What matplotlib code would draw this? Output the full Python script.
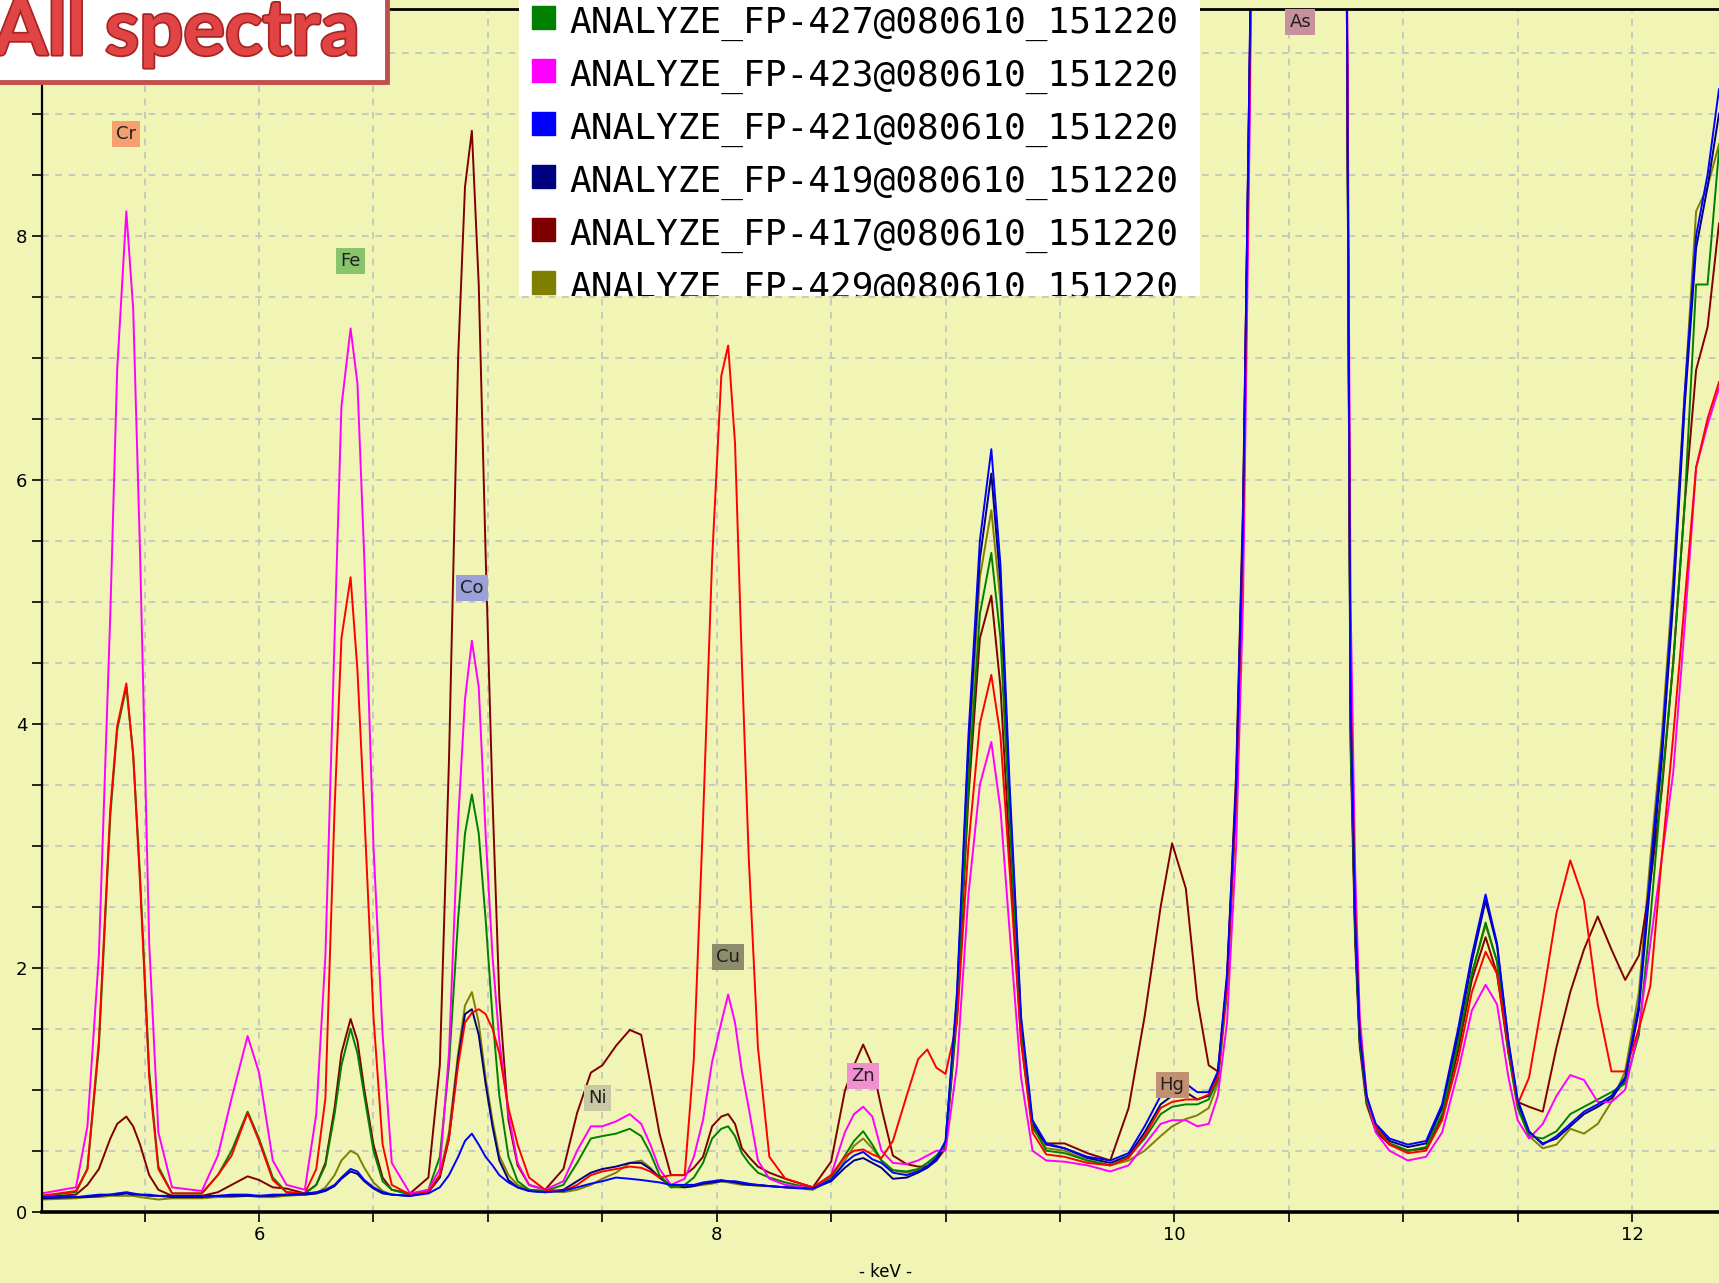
import matplotlib
matplotlib.use('Agg')
import matplotlib.pyplot as plt
import matplotlib.patheffects as pe
from matplotlib.patches import Rectangle
from matplotlib.ticker import MultipleLocator

# energy grid (keV)
kev = [5.05, 5.20, 5.25, 5.30, 5.35, 5.38, 5.42, 5.45, 5.48, 5.52, 5.56, 5.62,
       5.75, 5.82, 5.88, 5.95, 6.00, 6.06, 6.12, 6.20,
       6.25, 6.29, 6.33, 6.36, 6.40, 6.43, 6.46, 6.50, 6.54, 6.58, 6.66,
       6.74, 6.79, 6.83, 6.87, 6.90, 6.93, 6.96, 6.99, 7.02, 7.05, 7.09, 7.13, 7.18, 7.25,
       7.33, 7.39, 7.45, 7.50, 7.56, 7.62, 7.67, 7.71, 7.75, 7.80,
       7.86, 7.90, 7.94, 7.98, 8.02, 8.05, 8.08, 8.11, 8.14, 8.18, 8.23, 8.30, 8.42,
       8.50, 8.56, 8.60, 8.64, 8.68, 8.72, 8.77, 8.83, 8.88, 8.92, 8.96,
       9.00, 9.05, 9.10, 9.15, 9.20, 9.24, 9.28, 9.33, 9.38, 9.44, 9.52,
       9.62, 9.72, 9.80, 9.87, 9.94, 9.99, 10.05, 10.10, 10.15, 10.19, 10.23, 10.27, 10.30, 10.33,
       10.36, 10.55, 10.74,
       10.77, 10.79, 10.81, 10.84, 10.88, 10.94, 11.02, 11.10, 11.17, 11.24, 11.30, 11.36,
       11.41, 11.46, 11.50, 11.55, 11.61, 11.67, 11.73, 11.79, 11.85, 11.91, 11.97, 12.03,
       12.08, 12.13, 12.18, 12.23, 12.28, 12.33, 12.38]

fp_423 = [0.15, 0.20, 0.70, 2.10, 4.90, 6.90, 8.20, 7.40, 5.40, 2.20, 0.65, 0.20,
          0.17, 0.46, 0.93, 1.44, 1.14, 0.42, 0.22, 0.18,
          0.80, 2.10, 4.70, 6.60, 7.24, 6.79, 5.35, 3.00, 1.45, 0.40, 0.15,
          0.18, 0.35, 1.30, 3.20, 4.20, 4.68, 4.30, 3.10, 2.10, 1.40, 0.80, 0.40, 0.22, 0.18,
          0.25, 0.50, 0.70, 0.70, 0.74, 0.80, 0.72, 0.55, 0.35, 0.22,
          0.27, 0.45, 0.75, 1.23, 1.55, 1.78, 1.55, 1.15, 0.85, 0.42, 0.27, 0.22, 0.19,
          0.30, 0.65, 0.80, 0.86, 0.78, 0.50, 0.40, 0.39, 0.42, 0.46, 0.50,
          0.50, 1.20, 2.60, 3.50, 3.85, 3.30, 2.30, 1.10, 0.50, 0.42, 0.41,
          0.38, 0.33, 0.38, 0.55, 0.72, 0.75, 0.75, 0.70, 0.72, 0.95, 1.55, 3.00, 5.00, 9.00,
          15, 15, 15,
          5.0, 2.8, 1.6, 0.95, 0.65, 0.50, 0.42, 0.45, 0.65, 1.15, 1.65, 1.86,
          1.70, 1.10, 0.75, 0.60, 0.72, 0.95, 1.12, 1.08, 0.90, 0.90, 1.00, 1.50,
          2.20, 2.90, 3.60, 4.80, 6.10, 6.45, 6.75]

fp_red = [0.13, 0.17, 0.35, 1.40, 3.30, 3.98, 4.33, 3.74, 2.70, 1.10, 0.35, 0.15,
          0.15, 0.30, 0.46, 0.81, 0.58, 0.26, 0.16, 0.15,
          0.35, 0.93, 3.30, 4.70, 5.20, 4.44, 3.27, 1.60, 0.55, 0.22, 0.14,
          0.16, 0.30, 0.60, 1.20, 1.55, 1.63, 1.66, 1.62, 1.50, 1.30, 0.85, 0.55, 0.28, 0.18,
          0.17, 0.22, 0.30, 0.33, 0.35, 0.37, 0.36, 0.33, 0.28, 0.30,
          0.30, 1.25, 3.20, 5.35, 6.85, 7.10, 6.30, 4.50, 2.90, 1.35, 0.45, 0.27, 0.20,
          0.30, 0.45, 0.50, 0.51, 0.47, 0.44, 0.58, 0.95, 1.25, 1.33, 1.18,
          1.13, 1.55, 3.00, 4.00, 4.40, 3.90, 2.80, 1.40, 0.65, 0.47, 0.45,
          0.40, 0.38, 0.44, 0.62, 0.85, 0.90, 0.92, 0.92, 0.96, 1.10, 1.85, 3.40, 5.50, 9.40,
          15, 15, 15,
          4.3, 2.5, 1.50, 0.95, 0.70, 0.55, 0.48, 0.50, 0.75, 1.25, 1.80, 2.13,
          1.95, 1.35, 0.88, 1.10, 1.75, 2.45, 2.88, 2.55, 1.70, 1.15, 1.15, 1.50,
          1.85, 2.90, 3.90, 5.00, 6.10, 6.50, 6.80]

fp_427 = [0.13, 0.16, 0.35, 1.35, 3.25, 3.95, 4.30, 3.75, 2.75, 1.15, 0.37, 0.15,
          0.15, 0.30, 0.50, 0.82, 0.60, 0.28, 0.16, 0.15,
          0.22, 0.38, 0.80, 1.20, 1.50, 1.30, 0.95, 0.50, 0.25, 0.18, 0.14,
          0.18, 0.45, 1.20, 2.40, 3.10, 3.42, 3.10, 2.40, 1.60, 0.95, 0.45, 0.25, 0.18, 0.17,
          0.22, 0.40, 0.60, 0.62, 0.64, 0.68, 0.62, 0.48, 0.30, 0.20,
          0.22, 0.28, 0.40, 0.60, 0.68, 0.70, 0.62, 0.48, 0.40, 0.32, 0.28, 0.24, 0.19,
          0.28, 0.46, 0.58, 0.66, 0.55, 0.42, 0.34, 0.33, 0.35, 0.40, 0.46,
          0.54, 1.65, 3.50, 4.90, 5.40, 4.70, 3.20, 1.50, 0.70, 0.50, 0.48,
          0.42, 0.38, 0.45, 0.60, 0.80, 0.86, 0.88, 0.88, 0.92, 1.08, 1.85, 3.40, 5.50, 9.40,
          15, 15, 15,
          3.9, 2.3, 1.40, 0.90, 0.68, 0.56, 0.50, 0.53, 0.80, 1.38, 1.95, 2.37,
          2.05, 1.30, 0.85, 0.62, 0.60, 0.66, 0.80, 0.86, 0.92, 0.98, 1.05, 1.45,
          2.40, 3.50, 4.50, 5.80, 7.60, 7.60, 8.70]

fp_417 = [0.12, 0.14, 0.22, 0.35, 0.60, 0.72, 0.78, 0.70, 0.55, 0.30, 0.18, 0.13,
          0.13, 0.16, 0.22, 0.29, 0.26, 0.20, 0.19, 0.15,
          0.22, 0.40, 0.85, 1.30, 1.58, 1.40, 1.00, 0.55, 0.28, 0.18, 0.15,
          0.28, 1.20, 3.70, 7.00, 8.40, 8.86, 7.60, 5.40, 3.40, 1.75, 0.75, 0.38, 0.22, 0.18,
          0.35, 0.81, 1.14, 1.20, 1.36, 1.49, 1.45, 1.05, 0.64, 0.30,
          0.30, 0.36, 0.45, 0.70, 0.78, 0.80, 0.72, 0.52, 0.45, 0.37, 0.32, 0.27, 0.20,
          0.41, 0.99, 1.20, 1.37, 1.20, 0.85, 0.46, 0.39, 0.37, 0.37, 0.42,
          0.52, 1.60, 3.40, 4.70, 5.05, 4.30, 2.95, 1.40, 0.68, 0.56, 0.56,
          0.48, 0.42, 0.85, 1.60, 2.50, 3.02, 2.65, 1.74, 1.20, 1.15, 1.90, 3.60, 5.80, 9.50,
          15, 15, 15,
          3.8, 2.2, 1.35, 0.88, 0.66, 0.55, 0.50, 0.52, 0.78, 1.32, 1.90, 2.25,
          1.95, 1.30, 0.90, 0.86, 0.82, 1.35, 1.80, 2.15, 2.42, 2.15, 1.90, 2.10,
          2.70, 3.45, 4.50, 5.80, 6.90, 7.25, 8.10]

fp_421 = [0.12, 0.12, 0.13, 0.14, 0.14, 0.15, 0.16, 0.15, 0.14, 0.14, 0.13, 0.13,
          0.13, 0.13, 0.14, 0.14, 0.13, 0.14, 0.14, 0.15,
          0.16, 0.18, 0.22, 0.28, 0.35, 0.33, 0.26, 0.20, 0.16, 0.14, 0.13,
          0.15, 0.20, 0.30, 0.45, 0.58, 0.64, 0.55, 0.45, 0.38, 0.30, 0.24, 0.20, 0.17, 0.16,
          0.17, 0.20, 0.23, 0.25, 0.28, 0.27, 0.26, 0.25, 0.24, 0.22,
          0.22, 0.22, 0.24, 0.25, 0.26, 0.25, 0.25, 0.24, 0.23, 0.22, 0.21, 0.20, 0.19,
          0.26, 0.40, 0.46, 0.49, 0.43, 0.40, 0.32, 0.30, 0.33, 0.37, 0.44,
          0.58, 1.80, 3.90, 5.50, 6.25, 5.30, 3.50, 1.60, 0.75, 0.56, 0.52,
          0.45, 0.42, 0.48, 0.70, 0.95, 1.02, 1.05, 0.98, 0.98, 1.15, 1.95, 3.50, 5.70, 9.60,
          15, 15, 15,
          4.2, 2.4, 1.45, 0.95, 0.72, 0.60, 0.55, 0.58, 0.88, 1.50, 2.10, 2.60,
          2.20, 1.40, 0.92, 0.66, 0.55, 0.62, 0.72, 0.82, 0.88, 0.95, 1.10, 1.70,
          2.80, 3.80, 5.10, 6.70, 8.00, 8.50, 9.20]

fp_419 = [0.11, 0.12, 0.12, 0.13, 0.14, 0.14, 0.15, 0.14, 0.14, 0.13, 0.13, 0.12,
          0.12, 0.13, 0.13, 0.13, 0.13, 0.13, 0.14, 0.14,
          0.15, 0.17, 0.21, 0.27, 0.33, 0.31, 0.25, 0.19, 0.15, 0.14, 0.13,
          0.16, 0.28, 0.60, 1.25, 1.62, 1.66, 1.45, 1.05, 0.70, 0.42, 0.26, 0.20, 0.17, 0.16,
          0.18, 0.25, 0.32, 0.35, 0.37, 0.40, 0.40, 0.35, 0.28, 0.22,
          0.20, 0.21, 0.23, 0.24, 0.25, 0.25, 0.24, 0.23, 0.22, 0.22, 0.21, 0.20, 0.19,
          0.25, 0.36, 0.42, 0.44, 0.40, 0.36, 0.27, 0.28, 0.32, 0.36, 0.42,
          0.56, 1.75, 3.80, 5.35, 6.05, 5.15, 3.40, 1.55, 0.72, 0.55, 0.52,
          0.44, 0.40, 0.46, 0.65, 0.88, 0.95, 0.98, 0.92, 0.95, 1.12, 1.90, 3.45, 5.60, 9.60,
          15, 15, 15,
          4.0, 2.3, 1.40, 0.93, 0.70, 0.58, 0.53, 0.56, 0.85, 1.45, 2.05, 2.55,
          2.18, 1.38, 0.90, 0.65, 0.56, 0.60, 0.70, 0.80, 0.86, 0.93, 1.08, 1.65,
          2.70, 3.70, 5.00, 6.60, 7.90, 8.40, 9.00]

fp_429 = [0.10, 0.11, 0.12, 0.12, 0.13, 0.13, 0.13, 0.13, 0.12, 0.11, 0.10, 0.11,
          0.11, 0.12, 0.12, 0.13, 0.12, 0.12, 0.13, 0.14,
          0.15, 0.20, 0.30, 0.42, 0.50, 0.47, 0.36, 0.24, 0.17, 0.14, 0.13,
          0.17, 0.30, 0.65, 1.30, 1.69, 1.80, 1.55, 1.10, 0.75, 0.46, 0.30, 0.22, 0.18, 0.17,
          0.16, 0.18, 0.22, 0.27, 0.32, 0.40, 0.42, 0.36, 0.28, 0.20,
          0.20, 0.21, 0.22, 0.23, 0.25, 0.24, 0.23, 0.22, 0.22, 0.21, 0.21, 0.20, 0.18,
          0.26, 0.42, 0.54, 0.60, 0.52, 0.42, 0.34, 0.32, 0.34, 0.38, 0.44,
          0.54, 1.70, 3.70, 5.20, 5.75, 5.00, 3.35, 1.55, 0.70, 0.52, 0.50,
          0.42, 0.38, 0.42, 0.50, 0.62, 0.70, 0.76, 0.79, 0.85, 1.05, 1.80, 3.35, 5.40, 9.30,
          15, 15, 15,
          4.0, 2.3, 1.40, 0.90, 0.68, 0.56, 0.50, 0.52, 0.80, 1.40, 1.95, 2.35,
          2.05, 1.32, 0.88, 0.62, 0.52, 0.55, 0.68, 0.64, 0.72, 0.90, 1.15, 1.80,
          2.90, 3.90, 5.20, 6.70, 8.20, 8.40, 8.75]

# drawing order (last on top)
spectra = [fp_429, fp_417, fp_419, fp_427, fp_423, fp_red, fp_421]
spec_colors = ['#808000', '#800000', '#000080', '#008000', '#FF00FF', '#FF0000', '#0000FF']

legend_labels = ['ANALYZE_FP-427@080610_151220', 'ANALYZE_FP-423@080610_151220',
                 'ANALYZE_FP-421@080610_151220', 'ANALYZE_FP-419@080610_151220',
                 'ANALYZE_FP-417@080610_151220', 'ANALYZE_FP-429@080610_151220']
legend_colors = ['#008000', '#FF00FF', '#0000FF', '#000080', '#800000', '#808000']

peak_names = ['Cr', 'Fe', 'Co', 'Ni', 'Cu', 'Zn', 'Hg', 'As']
peak_x = [5.42, 6.40, 6.93, 7.48, 8.05, 8.64, 9.99, 10.55]
peak_y = [8.83, 7.79, 5.11, 0.93, 2.09, 1.11, 1.04, 9.75]
peak_bg = ['#F4A070', '#88C46A', '#9CA0D8', '#C8C8A4', '#8C8C6C', '#F090D0', '#C09070', '#C8909C']

bg = '#F0F4B4'
W, H = 1568.0, 1170.0   # reference pixel frame used for placing things

fig = plt.figure(figsize=(17.19, 12.83), dpi=100, facecolor=bg)
ax = fig.add_axes([38 / W, 1 - 1105 / H, 1 - 38 / W, (1105 - 8) / H])
ax.set_facecolor(bg)

for vals, col in zip(spectra, spec_colors):
    ax.plot(kev, vals, color=col, lw=1.4)

ax.set_xlim(5.05, 12.38)
ax.set_ylim(0, 9.86)
ax.xaxis.set_major_locator(MultipleLocator(2))
ax.xaxis.set_minor_locator(MultipleLocator(0.5))
ax.yaxis.set_major_locator(MultipleLocator(2))
ax.yaxis.set_minor_locator(MultipleLocator(0.5))
ax.grid(which='both', color='#C2C2C2', linestyle=(0, (4, 4)), lw=1.2)
ax.set_axisbelow(True)
ax.tick_params(which='both', direction='out', length=7, width=1.2, labelsize=13)
ax.spines['right'].set_visible(False)
ax.spines['left'].set_linewidth(1.6)
ax.spines['top'].set_linewidth(2)
ax.spines['bottom'].set_linewidth(2.6)

for name, px, py, c in zip(peak_names, peak_x, peak_y, peak_bg):
    ax.text(px, py, name, fontsize=13, ha='center', va='center', color='#202020',
            bbox=dict(boxstyle='square,pad=0.22', fc=c, ec='none'))

fig.text(808 / W, 1 - 1160 / H, '- keV -', fontsize=12, ha='center', va='center')

# legend panel, scrolled so that it is cut at top and bottom
lg = fig.add_axes([473 / W, 1 - 270 / H, (1095 - 473) / W, 270 / H])
lg.set_facecolor('white')
lg.set_xlim(0, 622)
lg.set_ylim(270, 0)
lg.set_xticks([])
lg.set_yticks([])
for s in lg.spines.values():
    s.set_visible(False)
for i, (lab, col) in enumerate(zip(legend_labels, legend_colors)):
    yc = 16 + 48.4 * i
    lg.add_patch(Rectangle((12, yc - 10.5), 21, 21, color=col, clip_on=True))
    lg.text(46, yc + 14, lab, fontsize=26, family='DejaVu Sans Mono', va='baseline',
            ha='left', color='black', clip_on=True)

# title box
fig.patches.append(Rectangle((-0.01, 1 - 75 / H), 0.01 + 353 / W, 0.1, transform=fig.transFigure,
                             fc='white', ec='#C0504D', lw=3.5, zorder=5))
fig.text(-6 / W, 1 - 50 / H, 'All spectra', fontsize=56, family='Lato', weight='bold',
         color='#E04444', ha='left', va='baseline', zorder=6,
         path_effects=[pe.withStroke(linewidth=2.5, foreground='#A82424')])

fig.savefig('out.png', dpi=100, facecolor=bg)
